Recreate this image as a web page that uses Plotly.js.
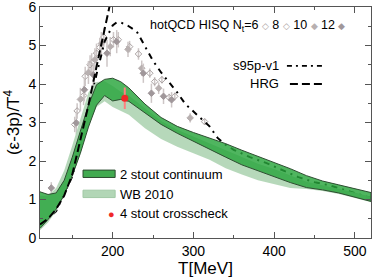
<!DOCTYPE html>
<html><head><meta charset="utf-8">
<script src="https://cdn.plot.ly/plotly-3.0.1.min.js"></script>
<style>body{margin:0;background:#fff}#c{width:374px;height:278px}</style>
</head><body><div id="c"></div>
<script>
// 2 stout continuum band
var bandT   = [110,120,130,140,150,160,170,180,190,200,210,220,240,260,280,300,320,340,360,380,400,420,440,460,480,500,520];
var bandUp  = [1.2,1.13,1.17,1.5,2.1,2.8,3.45,3.98,4.12,4.15,4.06,3.9,3.48,3.13,2.9,2.74,2.6,2.45,2.28,2.12,1.97,1.8,1.62,1.48,1.38,1.28,1.18];
var bandLo  = [0.25,0.48,0.75,1.12,1.62,2.2,2.88,3.45,3.7,3.56,3.6,3.55,3.24,2.95,2.72,2.52,2.3,2.1,1.9,1.74,1.6,1.44,1.31,1.25,1.17,1.07,0.95];
// WB 2010 band
var wbT  = [110,120,130,140,150,160,170,180,190,200,210,220,240,260,280,300,320,340,360,380,400,420,440,460,480,500,520];
var wbUp = [1.1,1.1,1.3,1.75,2.4,3.1,3.78,4.05,4.07,3.95,3.8,3.7,3.36,3.04,2.81,2.63,2.45,2.28,2.09,1.93,1.79,1.62,1.46,1.37,1.28,1.18,1.07];
var wbLo = [0.2,0.4,0.7,1.1,1.6,2.2,2.9,3.4,3.55,3.4,3.3,3.2,2.85,2.57,2.37,2.2,2.03,1.81,1.65,1.5,1.39,1.3,1.27,1.22,1.14,1.04,0.93];
// HRG
var hrgT = [110,120,130,140,150,160,165,170,180,190,197];
var hrgV = [0.35,0.5,0.75,1.1,1.65,2.55,3.0,3.45,4.45,5.45,6.1];
// s95p-v1
var s95T = [110,130,150,160,170,180,190,200,205,210,220,230,240,250,260,270,280,290,300,310,320,330,340,350,370,390,410,430,450,470,490,520];
var s95V = [0.3,0.7,1.6,2.4,3.3,4.25,5.1,5.52,5.6,5.6,5.5,5.36,4.98,4.6,4.3,4.04,3.78,3.48,3.28,3.1,2.9,2.6,2.42,2.29,2.1,1.95,1.77,1.58,1.45,1.36,1.23,1.04];
// hotQCD HISQ
var nt6T = [156,166,174,184,201,221,246,261,277,314];
var nt6V = [3.3,4.2,4.55,4.95,5.15,4.97,4.28,4.11,3.68,3.02];
var nt6E = [0.2,0.25,0.25,0.25,0.2,0.15,0.12,0.1,0.1,0.08];
var nt8T = [153,164,172,180,189,207,232,252,270];
var nt8V = [2.95,3.7,4.5,4.8,5.22,5.15,4.78,4.06,3.65];
var nt8E = [0.2,0.25,0.25,0.25,0.25,0.2,0.15,0.12,0.1];
var nt10T = [160,170,178,186,197,219,236,257,296];
var nt10V = [3.6,4.3,4.63,5.05,4.97,4.9,4.41,3.89,3.12];
var nt10E = [0.3,0.3,0.3,0.3,0.25,0.2,0.2,0.15,0.12];
var nt12T = [124,155,165,176,193,205,238,248,263,273];
var nt12V = [1.3,2.99,3.85,4.24,4.8,5.1,4.28,3.76,3.68,3.59];
var nt12E = [0.15,0.3,0.3,0.3,0.35,0.3,0.25,0.25,0.2,0.2];
// 4 stout crosscheck
var crossT = [215];
var crossV = [3.63];
var crossE = [0.28];

var gray = '#aaa2a2', grayBar = '#cdc6c6';
function band(T, up, lo, fill, line, op){
  return {x: T.concat(T.slice().reverse()), y: up.concat(lo.slice().reverse()),
    type:'scatter', mode:'lines', fill:'toself', fillcolor:fill, opacity:op||1,
    line:{color:line, width: line==='rgba(0,0,0,0)'?0:1}, hoverinfo:'skip', showlegend:false};
}
function pts(T,V,E,sym,col){
  return {x:T,y:V,type:'scatter',mode:'markers',showlegend:false,
    marker:{symbol:sym,size:5,color:col,line:{color:col,width:1}},
    error_y:{type:'data',array:E,color:grayBar,thickness:1.5,width:0}};
}
var data = [
  pts(nt6T,nt6V,nt6E,'diamond-open',gray),
  pts(nt8T,nt8V,nt8E,'diamond-open',gray),
  pts(nt10T,nt10V,nt10E,'diamond','#b8b0b0'),
  pts(nt12T,nt12V,nt12E,'diamond','#a0979a'),
  {x:s95T,y:s95V,type:'scatter',mode:'lines',line:{color:'#000',width:2,dash:'6px,5px,2px,5px'},showlegend:false},
  band(wbT,wbUp,wbLo,'rgb(178,214,182)','rgba(0,0,0,0)',0.95),
  band(bandT,bandUp,bandLo,'rgba(40,165,60,0.82)','#2d4d30'),
  {x:hrgT,y:hrgV,type:'scatter',mode:'lines',line:{color:'#000',width:2,dash:'8px,4px'},showlegend:false},
  {x:crossT,y:crossV,type:'scatter',mode:'markers',showlegend:false,
   marker:{color:'#f02828',size:7},error_y:{type:'data',array:crossE,color:'#ff8080',thickness:2,width:0}}
];
var F = 'Liberation Sans, Arial, sans-serif';
var layout = {
  width:374,height:278,margin:{l:40,r:3,t:7,b:40},
  paper_bgcolor:'#fff',plot_bgcolor:'#fff',showlegend:false,
  font:{family:F,color:'#000',size:13},
  xaxis:{range:[110,520],tickvals:[200,300,400,500],ticks:'inside',ticklen:6,tickcolor:'#555',
    showgrid:false,zeroline:false,showline:true,linecolor:'#555',linewidth:1,mirror:'allticks',
    minor:{tickvals:[150,250,350,450],ticks:'inside',ticklen:3,tickcolor:'#555'},
    tickfont:{size:14,family:F},title:{text:'T[MeV]',font:{size:17,family:F},standoff:2}},
  yaxis:{range:[-0.0001,6.0001],tickvals:[0,1,2,3,4,5,6],ticks:'inside',ticklen:6,tickcolor:'#555',
    ticklabeloverflow:'allow',
    showgrid:false,zeroline:false,showline:true,linecolor:'#555',linewidth:1,mirror:'allticks',
    minor:{dtick:0.5,ticks:'inside',ticklen:3,tickcolor:'#555'},
    tickfont:{size:14,family:F},title:{text:'(ε-3p)/T<sup>4</sup>',font:{size:17,family:F},standoff:4}},
  shapes:[
    {type:'line',xref:'paper',yref:'paper',x0:0.746,x1:0.861,y0:0.745,y1:0.745,line:{color:'#000',width:1.6,dash:'5px,4px,2px,4px'}},
    {type:'line',xref:'paper',yref:'paper',x0:0.755,x1:0.861,y0:0.667,y1:0.667,line:{color:'#000',width:2,dash:'8px,4px'}},
    {type:'rect',xref:'paper',yref:'paper',x0:0.130,x1:0.227,y0:0.262,y1:0.294,fillcolor:'rgb(66,170,80)',line:{color:'#2d4d30',width:1}},
    {type:'rect',xref:'paper',yref:'paper',x0:0.130,x1:0.227,y0:0.175,y1:0.207,fillcolor:'rgb(178,214,182)',line:{color:'rgb(160,200,165)',width:1}}
  ],
  annotations:[
    {xref:'paper',yref:'paper',x:0.326,y:0.918,xanchor:'left',yanchor:'middle',showarrow:false,font:{size:12.5,family:F},
     text:'hotQCD HISQ N<sub>t</sub>=6 <span style="color:#aaa2a2;font-size:9px">◇</span> 8 <span style="color:#aaa2a2;font-size:9px">◇</span> 10 <span style="color:#b8b0b0;font-size:9px">◆</span> 12 <span style="color:#a0979a;font-size:9px">◆</span>'},
    {xref:'paper',yref:'paper',x:0.727,y:0.745,xanchor:'right',yanchor:'middle',showarrow:false,font:{size:13,family:F},text:'s95p-v1'},
    {xref:'paper',yref:'paper',x:0.727,y:0.667,xanchor:'right',yanchor:'middle',showarrow:false,font:{size:13,family:F},text:'HRG'},
    {xref:'paper',yref:'paper',x:0.236,y:0.274,xanchor:'left',yanchor:'middle',showarrow:false,font:{size:13,family:F},text:'2 stout continuum'},
    {xref:'paper',yref:'paper',x:0.236,y:0.19,xanchor:'left',yanchor:'middle',showarrow:false,font:{size:13,family:F},text:'WB 2010'},
    {xref:'paper',yref:'paper',x:0.2175,y:0.104,xanchor:'center',yanchor:'middle',showarrow:false,font:{size:11,family:F,color:'#f02828'},text:'●'},
    {xref:'paper',yref:'paper',x:0.236,y:0.104,xanchor:'left',yanchor:'middle',showarrow:false,font:{size:13,family:F},text:'4 stout crosscheck'}
  ]
};
Plotly.newPlot('c',data,layout,{staticPlot:true,displayModeBar:false});
</script></body></html>
